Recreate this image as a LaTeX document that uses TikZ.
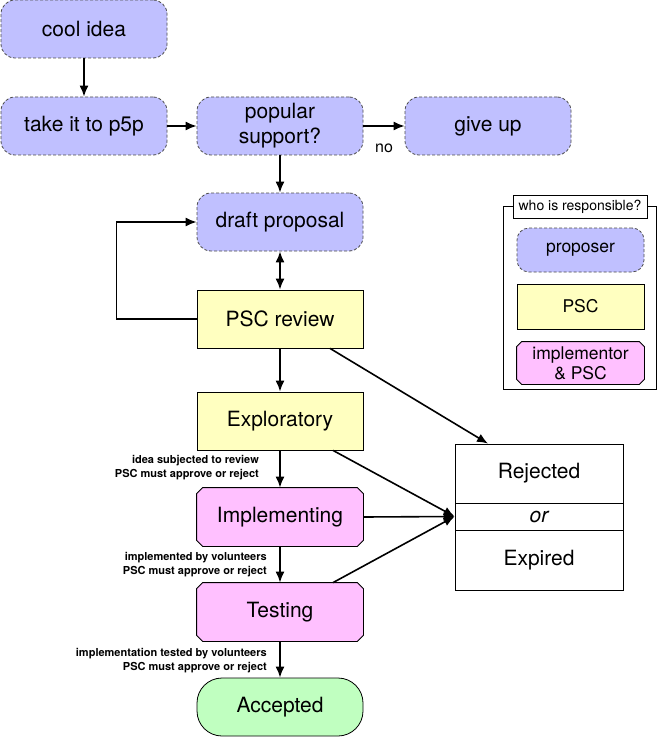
\documentclass[tikz,border=0pt]{standalone}
\usepackage{fontspec}
\setmainfont{TeX Gyre Heros}
\usetikzlibrary{arrows.meta,backgrounds}
\definecolor{proposercol}{RGB}{192,192,255}
\definecolor{psccol}{RGB}{255,255,192}
\definecolor{implcol}{RGB}{255,192,255}
\definecolor{acceptcol}{RGB}{192,255,192}
% box with cut corners, drawn behind the node #1
\newcommand{\chamferbox}[2]{%
  \begin{pgfonlayer}{background}
    \draw[fill=implcol,line width=0.8pt] ([xshift=#2]#1.north west) -- ([xshift=-#2]#1.north east)
      -- ([yshift=-#2]#1.north east) -- ([yshift=#2]#1.south east) -- ([xshift=-#2]#1.south east)
      -- ([xshift=#2]#1.south west) -- ([yshift=#2]#1.south west) -- ([yshift=-#2]#1.north west) -- cycle;
  \end{pgfonlayer}}
\begin{document}
\begin{tikzpicture}[x=1pt,y=-1pt,>={Latex[length=11pt,width=9pt]}]
  \tikzstyle{box}=[draw,line width=0.8pt,inner sep=0pt,align=center,minimum width=166pt,minimum height=58pt,font=\fontsize{21}{25}\selectfont]
  \tikzstyle{proposer}=[box,draw=black!70,dash pattern=on 3pt off 2pt,fill=proposercol,rounded corners=14pt]
  \tikzstyle{psc}=[box,fill=psccol]
  \tikzstyle{impl}=[box,draw=none]
  \tikzstyle{accept}=[box,fill=acceptcol,rounded corners=25pt]
  \tikzstyle{outcome}=[box,minimum width=168pt]
  \tikzstyle{note}=[anchor=east,align=right,inner sep=0pt,font=\fontsize{11}{14}\selectfont\bfseries]
  \tikzstyle{legend}=[minimum width=127pt,minimum height=44pt,font=\fontsize{17.5}{20}\selectfont]
  \tikzstyle{line}=[draw,line width=1.6pt,->]
  \useasboundingbox (0,0) rectangle (659,738);
  % proposer steps
  \node[proposer] (cool) at (84,29) {cool idea};
  \node[proposer] (take) at (84,126) {take it to p5p};
  \node[proposer] (popular) at (280,126) {popular\\support?};
  \node[proposer] (giveup) at (488,126) {give up};
  \node[proposer] (draft) at (280,222) {draft proposal};
  % psc steps
  \node[psc] (review) at (280,319) {PSC review};
  \node[psc] (explor) at (280,421) {Exploratory};
  \node[impl] (implem) at (280,517) {Implementing};
  \chamferbox{implem}{6pt}
  \node[impl] (testing) at (280,612) {Testing};
  \chamferbox{testing}{6pt}
  \node[accept] (accepted) at (280,707) {Accepted};
  % end states
  \node[outcome,minimum height=59pt] (rejected) at (539,473.5) {Rejected};
  \node[outcome,minimum height=27pt] (or) at (539,516.5) {\itshape or};
  \node[outcome,minimum height=60pt] (expired) at (539,560) {Expired};
  % notes
  \node[note] (note1) at (259,468) {idea subjected to review\\PSC must approve or reject};
  \node[note] (note2) at (267,565) {implemented by volunteers\\PSC must approve or reject};
  \node[note] (note3) at (267,661) {implementation tested by volunteers\\PSC must approve or reject};
  \node[font=\fontsize{16}{18}\selectfont,inner sep=0pt] (no) at (384,148) {no};
  % legend
  \draw[line width=0.8pt] (503,206) rectangle (656,389);
  \node[draw,fill=white,line width=0.8pt,minimum width=134pt,minimum height=23pt,inner sep=0pt,font=\fontsize{14}{16}\selectfont] (legendtitle) at (580,206.5) {who is responsible?};
  \node[proposer,legend,rounded corners=12pt] (legproposer) at (580.5,250) {proposer};
  \node[psc,legend,minimum height=45pt] (legpsc) at (580.5,306.5) {PSC};
  \node[impl,legend,minimum height=42pt] (legimpl) at (580.5,363) {implementor\\\& PSC};
  \chamferbox{legimpl}{5pt}
  % arrows
  \path[line] (cool) -- (take);
  \path[line] (take) -- (popular);
  \path[line] (popular) -- (giveup);
  \path[line] (popular) -- (draft);
  \path[line,<->] (draft) -- (review);
  \path[line] (review.west) -- ++(-80,0) |- (draft.west);
  \path[line] (review) -- (explor);
  \path[line] (explor) -- (implem);
  \path[line] (implem) -- (testing);
  \path[line] (testing) -- (accepted);
  \path[line] ([xshift=50pt]review.south) -- ([xshift=-51pt]rejected.north);
  \path[line] ([xshift=53pt]explor.south) -- (or.west);
  \path[line] (implem.east) -- (or.west);
  \path[line] ([xshift=53pt]testing.north) -- (or.west);
\end{tikzpicture}
\end{document}
